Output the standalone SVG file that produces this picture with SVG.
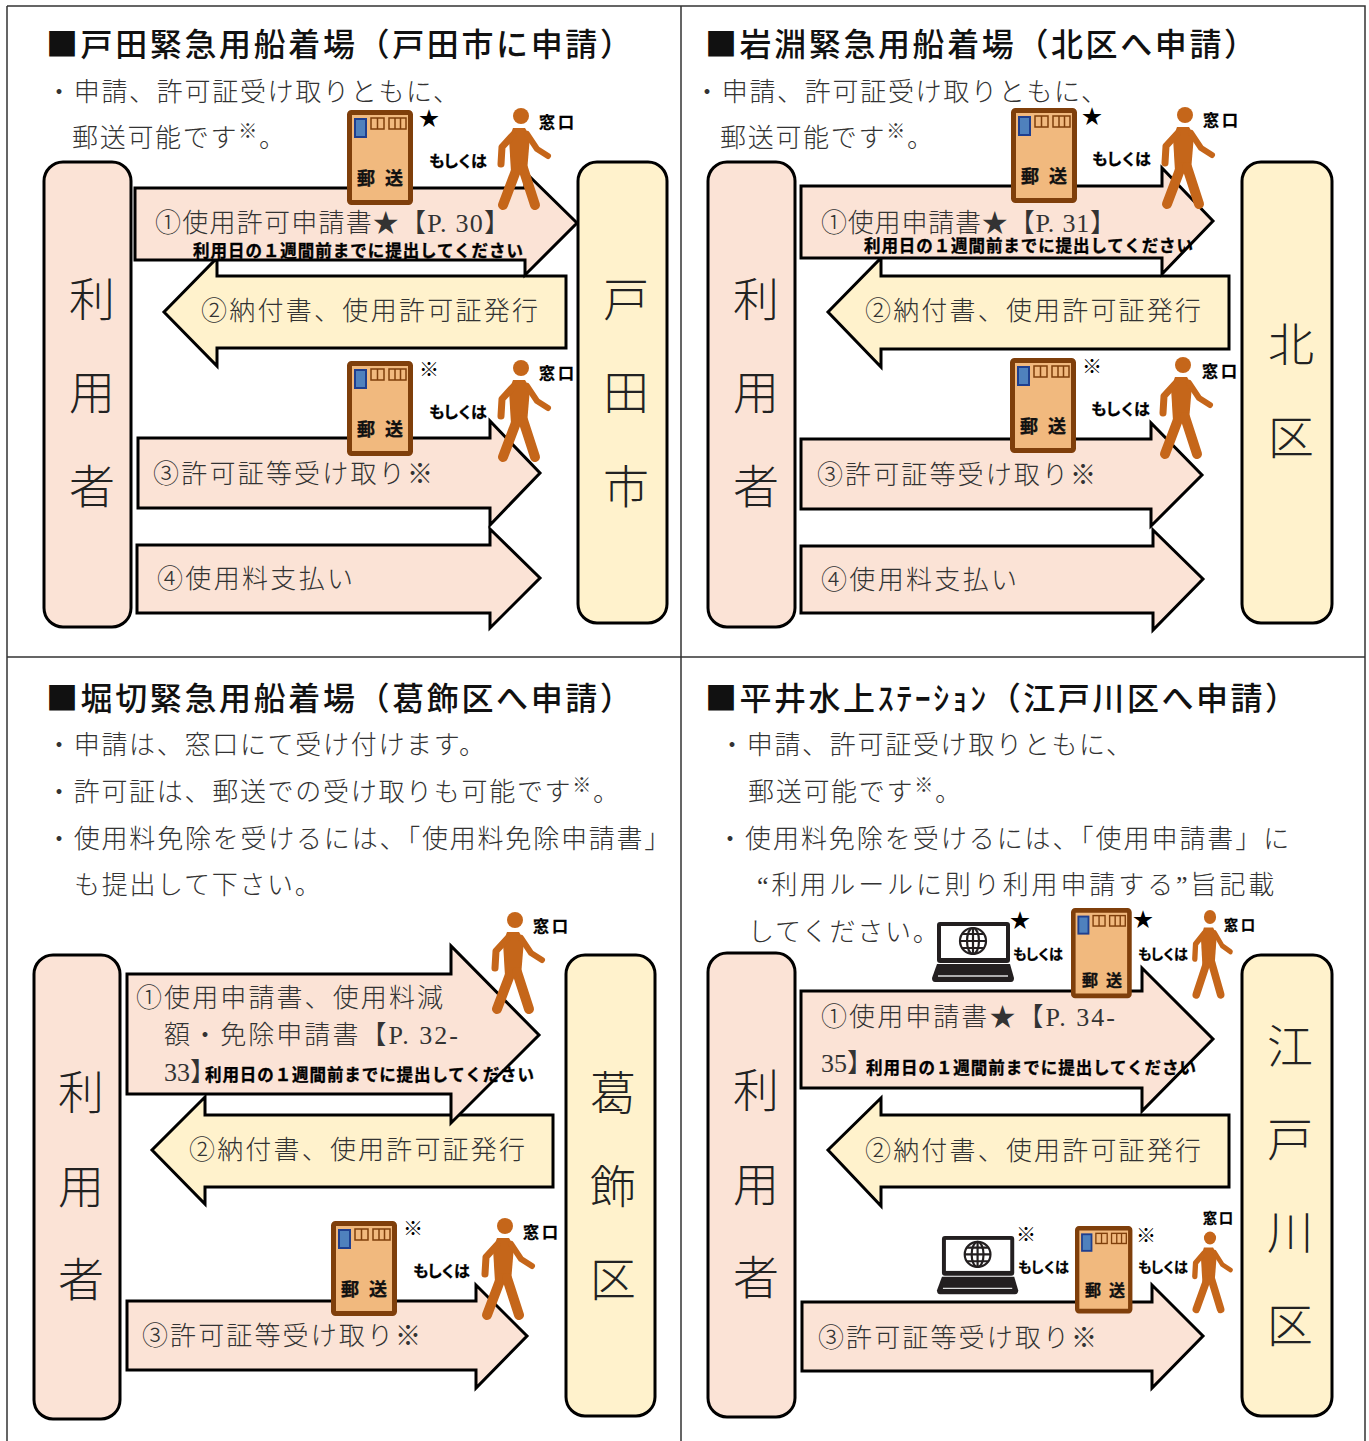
<svg xmlns="http://www.w3.org/2000/svg" width="1369" height="1441" viewBox="0 0 1369 1441">
<style>
text{font-family:"Noto Sans CJK JP","Noto Sans CJK SC",sans-serif}
.t{font-size:32px;font-weight:500;fill:#111}
.b{font-family:"Liberation Serif","Noto Sans CJK JP",serif;font-size:26px;font-weight:300;fill:#333;letter-spacing:1.7px}
.a{font-family:"Liberation Serif","Noto Sans CJK JP",serif;font-size:26px;font-weight:300;fill:#333}
.h{font-feature-settings:"halt"}
.big{font-size:46px;font-weight:300;fill:#222;text-anchor:middle}
.s{font-size:16.5px;font-weight:700;fill:#000;stroke:#000;stroke-width:.35}
.m{font-size:16px;font-weight:700;fill:#000;stroke:#000;stroke-width:.3}
.ms{font-size:14px;font-weight:700;fill:#000;stroke:#000;stroke-width:.3}
.ps{font-size:18px;font-weight:700;fill:#111;stroke:#111;stroke-width:.3}
.ps2{font-size:16px;font-weight:700;fill:#111;stroke:#111;stroke-width:.3}
.star{font-size:20px;fill:#000;text-anchor:middle}
.p{fill:#fbe3d6;stroke:#000;stroke-width:3}
.y{fill:#fff2cc;stroke:#000;stroke-width:3}
.ar{stroke:#000;stroke-width:3;stroke-linejoin:miter}
.grid{stroke:#333;stroke-width:1.5;fill:none}
</style>
<defs>
<g id="post">
<rect x="2.5" y="2.5" width="61" height="90" rx="2" fill="#f1b97e" stroke="#7f3f0b" stroke-width="5"/>
<rect x="8" y="9" width="11" height="18" fill="#4f81bd" stroke="#1f3f8f" stroke-width="2"/>
<g fill="none" stroke="#7f3f0b" stroke-width="1.5"><rect x="24" y="8" width="13" height="11"/><path d="M30.500 8v11M48 8v11M53.500 8v11"/><rect x="42" y="8" width="17" height="11"/></g>
</g>
<g id="walker" fill="#c5661a">
<circle cx="0" cy="0" r="8"/>
<path d="M-8 12L4 12L9 20L6 56L-10 56L-12 23Z"/>
<g fill="none" stroke="#c5661a" stroke-linecap="round" stroke-linejoin="round">
<path d="M-8 19L-19 31L-20 48" stroke-width="7"/>
<path d="M6 18L16 33L27 40" stroke-width="6"/>
<path d="M-4 52L-18 89" stroke-width="10"/>
<path d="M2 52L14 89" stroke-width="10"/>
</g>
</g>
<g id="laptop">
<rect x="5" y="0" width="73" height="41" rx="3" fill="#231f20"/>
<rect x="9" y="4" width="65" height="32" fill="#fff"/>
<path d="M5 42H78L82 56Q82 60 79 60H3Q0 60 0 56Z" fill="#231f20"/>
<path d="M6 54H76" stroke="#ddd" stroke-width="1.500"/>
<g fill="none" stroke="#231f20" stroke-width="2.200"><circle cx="41" cy="19" r="13"/><ellipse cx="41" cy="19" rx="6" ry="13"/><path d="M28 19H54M30 12H52M30 26H52M41 6V32"/></g>
</g>
</defs>

<g id="grid" class="grid"><path d="M7 6H1365V1441M7 6V1441M681 6V1441M7 657H1365"/></g>

<g id="connectors" class="ar">
<polygon class="y" points="566,276 217,276 217,258 164,312 217,366 217,348 566,348"/>
<polygon class="p" points="135,188 525,188 525,172 577,223 525,275 525,260 135,260"/>
<polygon class="p" points="138,438 490,438 490,421 540,473 490,525 490,508 138,508"/>
<polygon class="p" points="137,545 490,545 490,529 540,578 490,628 490,613 137,613"/>

<polygon class="y" points="1229,276 881,276 881,258 828,312 881,367 881,349 1229,349"/>
<polygon class="p" points="801,186 1162,186 1162,168 1213,221 1162,274 1162,258 801,258"/>
<polygon class="p" points="801,439 1151,439 1151,423 1202,475 1151,526 1151,509 801,509"/>
<polygon class="p" points="801,546 1153,546 1153,530 1203,579 1153,630 1153,613 801,613"/>

<polygon class="y" points="553,1115 205,1115 205,1097 152,1150 205,1204 205,1187 553,1187"/>
<polygon class="p" points="127,974 451,974 451,946 539,1035 451,1123 451,1094 127,1094"/>
<polygon class="p" points="127,1301 476,1301 476,1285 527,1336 476,1388 476,1370 127,1370"/>

<polygon class="y" points="1229,1115 881,1115 881,1098 828,1150 881,1206 881,1187 1229,1187"/>
<polygon class="p" points="801,991 1142,991 1142,968 1213,1039 1142,1111 1142,1088 801,1088"/>
<polygon class="p" points="802,1302 1152,1302 1152,1285 1203,1336 1152,1388 1152,1371 802,1371"/>
</g>

<g id="panel1">
<text class="t" x="46" y="56" textLength="586">■戸田緊急用船着場（戸田市に申請）</text>
<text class="b" x="46" y="101">・申請、許可証受け取りともに、</text>
<text class="b" x="72" y="147">郵送可能です<tspan font-size="19" dy="-9">※</tspan><tspan dy="9">。</tspan></text>
</g>
<g id="node-user1"><rect class="p" x="44" y="162" width="87" height="465" rx="19"/><text class="big" x="92" y="316">利</text><text class="big" x="92" y="409">用</text><text class="big" x="92" y="503">者</text></g>
<g id="node-toda"><rect class="y" x="578" y="162" width="89" height="461" rx="19"/><text class="big" x="626" y="316">戸</text><text class="big" x="626" y="409">田</text><text class="big" x="626" y="503">市</text></g>
<g id="labels1">
<text class="a" x="155" y="232" textLength="355">①使用許可申請書★【P. 30】</text>
<text class="s" x="193" y="257" textLength="330">利用日の１週間前までに提出してください</text>
<text class="a" x="201" y="320" textLength="337">②納付書、使用許可証発行</text>
<text class="a" x="153" y="483" textLength="280">③許可証等受け取り※</text>
<text class="a" x="157" y="588" textLength="196">④使用料支払い</text>
</g>
<g id="post1a"><use href="#post" x="347" y="110"/><text class="ps" x="357" y="185" textLength="46">郵 送</text><text class="star" x="429" y="126">★</text></g>
<g id="mail1a"><text class="m" x="429" y="167" textLength="58">もしくは</text></g>
<g id="walker1a"><use href="#walker" x="521" y="116"/><text class="m" x="539" y="128" textLength="35">窓口</text></g>
<g id="post1b"><use href="#post" x="347" y="361"/><text class="ps" x="357" y="436" textLength="46">郵 送</text><text class="star" x="429" y="377">※</text></g>
<g id="mail1b"><text class="m" x="429" y="418" textLength="58">もしくは</text></g>
<g id="walker1b"><use href="#walker" x="521" y="368"/><text class="m" x="539" y="379" textLength="35">窓口</text></g>

<g id="panel2">
<text class="t" x="705" y="56" textLength="551">■岩淵緊急用船着場（北区へ申請）</text>
<text class="b" x="694" y="101">・申請、許可証受け取りともに、</text>
<text class="b" x="720" y="147">郵送可能です<tspan font-size="19" dy="-9">※</tspan><tspan dy="9">。</tspan></text>
</g>
<g id="node-user2"><rect class="p" x="708" y="162" width="87" height="465" rx="19"/><text class="big" x="756" y="316">利</text><text class="big" x="756" y="409">用</text><text class="big" x="756" y="503">者</text></g>
<g id="node-kita"><rect class="y" x="1242" y="162" width="90" height="461" rx="19"/><text class="big" x="1291" y="361">北</text><text class="big" x="1291" y="454">区</text></g>
<g id="labels2">
<text class="a" x="821" y="232" textLength="295">①使用申請書★【P. 31】</text>
<text class="s" x="864" y="252" textLength="329">利用日の１週間前までに提出してください</text>
<text class="a" x="865" y="320" textLength="336">②納付書、使用許可証発行</text>
<text class="a" x="817" y="484" textLength="279">③許可証等受け取り※</text>
<text class="a" x="821" y="589" textLength="196">④使用料支払い</text>
</g>
<g id="post2a"><use href="#post" x="1011" y="108"/><text class="ps" x="1021" y="183" textLength="46">郵 送</text><text class="star" x="1092" y="124">★</text></g>
<g id="mail2a"><text class="m" x="1092" y="165" textLength="59">もしくは</text></g>
<g id="walker2a"><use href="#walker" x="1185" y="115"/><text class="m" x="1203" y="126" textLength="35">窓口</text></g>
<g id="post2b"><use href="#post" x="1010" y="358"/><text class="ps" x="1020" y="433" textLength="46">郵 送</text><text class="star" x="1092" y="374">※</text></g>
<g id="mail2b"><text class="m" x="1091" y="415" textLength="59">もしくは</text></g>
<g id="walker2b"><use href="#walker" x="1183" y="365"/><text class="m" x="1202" y="377" textLength="35">窓口</text></g>

<g id="panel3">
<text class="t" x="46" y="710" textLength="586">■堀切緊急用船着場（葛飾区へ申請）</text>
<text class="b" x="46" y="754">・申請は、窓口にて受け付けます。</text>
<text class="b" x="46" y="801">・許可証は、郵送での受け取りも可能です<tspan font-size="19" dy="-9">※</tspan><tspan dy="9">。</tspan></text>
<text class="b" x="46" y="848" textLength="626">・使用料免除を受けるには、「使用料免除申請書」</text>
<text class="b" x="74" y="894">も提出して下さい。</text>
</g>
<g id="node-user3"><rect class="p" x="34" y="955" width="86" height="464" rx="19"/><text class="big" x="81" y="1109">利</text><text class="big" x="81" y="1203">用</text><text class="big" x="81" y="1296">者</text></g>
<g id="node-katsushika"><rect class="y" x="566" y="955" width="89" height="461" rx="19"/><text class="big" x="613" y="1109">葛</text><text class="big" x="613" y="1203">飾</text><text class="big" x="613" y="1296">区</text></g>
<g id="labels3">
<text class="a" x="136" y="1007" textLength="307">①使用申請書、使用料減</text>
<text class="a" x="164" y="1044" textLength="294">額・免除申請書【P. 32-</text>
<text class="a h" x="164" y="1081">33】</text>
<text class="s" x="205" y="1081" textLength="329">利用日の１週間前までに提出してください</text>
<text class="a" x="189" y="1159" textLength="336">②納付書、使用許可証発行</text>
<text class="a" x="142" y="1345" textLength="279">③許可証等受け取り※</text>
</g>
<g id="walker3a"><use href="#walker" x="515" y="920"/><text class="m" x="533" y="932" textLength="35">窓口</text></g>
<g id="post3b"><use href="#post" x="331" y="1221"/><text class="ps" x="341" y="1296" textLength="46">郵 送</text><text class="star" x="413" y="1236">※</text></g>
<g id="mail3b"><text class="m" x="413" y="1277" textLength="57">もしくは</text></g>
<g id="walker3b"><use href="#walker" x="505" y="1226"/><text class="m" x="523" y="1238" textLength="35">窓口</text></g>

<g id="panel4">
<text class="t" x="705" y="710" textLength="592">■平井水上ｽﾃｰｼｮﾝ（江戸川区へ申請）</text>
<text class="b" x="719" y="754">・申請、許可証受け取りともに、</text>
<text class="b" x="748" y="801">郵送可能です<tspan font-size="19" dy="-9">※</tspan><tspan dy="9">。</tspan></text>
<text class="b" x="717" y="848" textLength="574">・使用料免除を受けるには、「使用申請書」に</text>
<text class="b" x="757" y="894" textLength="519">“利用ルールに則り利用申請する”旨記載</text>
<text class="b" x="748" y="941">してください。</text>
</g>
<g id="node-user4"><rect class="p" x="708" y="953" width="87" height="464" rx="19"/><text class="big" x="756" y="1107">利</text><text class="big" x="756" y="1201">用</text><text class="big" x="756" y="1294">者</text></g>
<g id="node-edogawa"><rect class="y" x="1242" y="955" width="90" height="461" rx="19"/><text class="big" x="1290" y="1063">江</text><text class="big" x="1290" y="1156">戸</text><text class="big" x="1290" y="1249">川</text><text class="big" x="1290" y="1342">区</text></g>
<g id="labels4">
<text class="a" x="821" y="1026" textLength="294">①使用申請書★【P. 34-</text>
<text class="a h" x="821" y="1072">35】</text>
<text class="s" x="866" y="1074" textLength="330">利用日の１週間前までに提出してください</text>
<text class="a" x="865" y="1160" textLength="336">②納付書、使用許可証発行</text>
<text class="a" x="818" y="1347" textLength="279">③許可証等受け取り※</text>
</g>
<g id="laptop4a"><use href="#laptop" x="932" y="922"/><text class="star" x="1020" y="928">★</text></g>
<g id="mail4a"><text class="ms" x="1013" y="959" textLength="50">もしくは</text></g>
<g id="post4a"><use href="#post" transform="translate(1071 908) scale(.92 .95)"/><text class="ps2" x="1082" y="986" textLength="40">郵 送</text><text class="star" x="1143" y="927">★</text></g>
<g id="mail4a2"><text class="ms" x="1138" y="959" textLength="50">もしくは</text></g>
<g id="walker4a"><use href="#walker" transform="translate(1210 917) scale(.76 .87)"/><text class="ms" x="1224" y="930" textLength="31">窓口</text></g>
<g id="laptop4b"><use href="#laptop" transform="translate(937 1236) scale(.99 .97)"/><text class="star" x="1026" y="1242">※</text></g>
<g id="mail4b"><text class="ms" x="1018" y="1272" textLength="51">もしくは</text></g>
<g id="post4b"><use href="#post" transform="translate(1075 1226) scale(.87 .92)"/><text class="ps2" x="1085" y="1296" textLength="40">郵 送</text><text class="star" x="1146" y="1243">※</text></g>
<g id="mail4b2"><text class="ms" x="1138" y="1272" textLength="50">もしくは</text></g>
<g id="walker4b"><use href="#walker" transform="translate(1210 1238) scale(.76 .8)"/><text class="ms" x="1203" y="1223" textLength="30">窓口</text></g>
</svg>
